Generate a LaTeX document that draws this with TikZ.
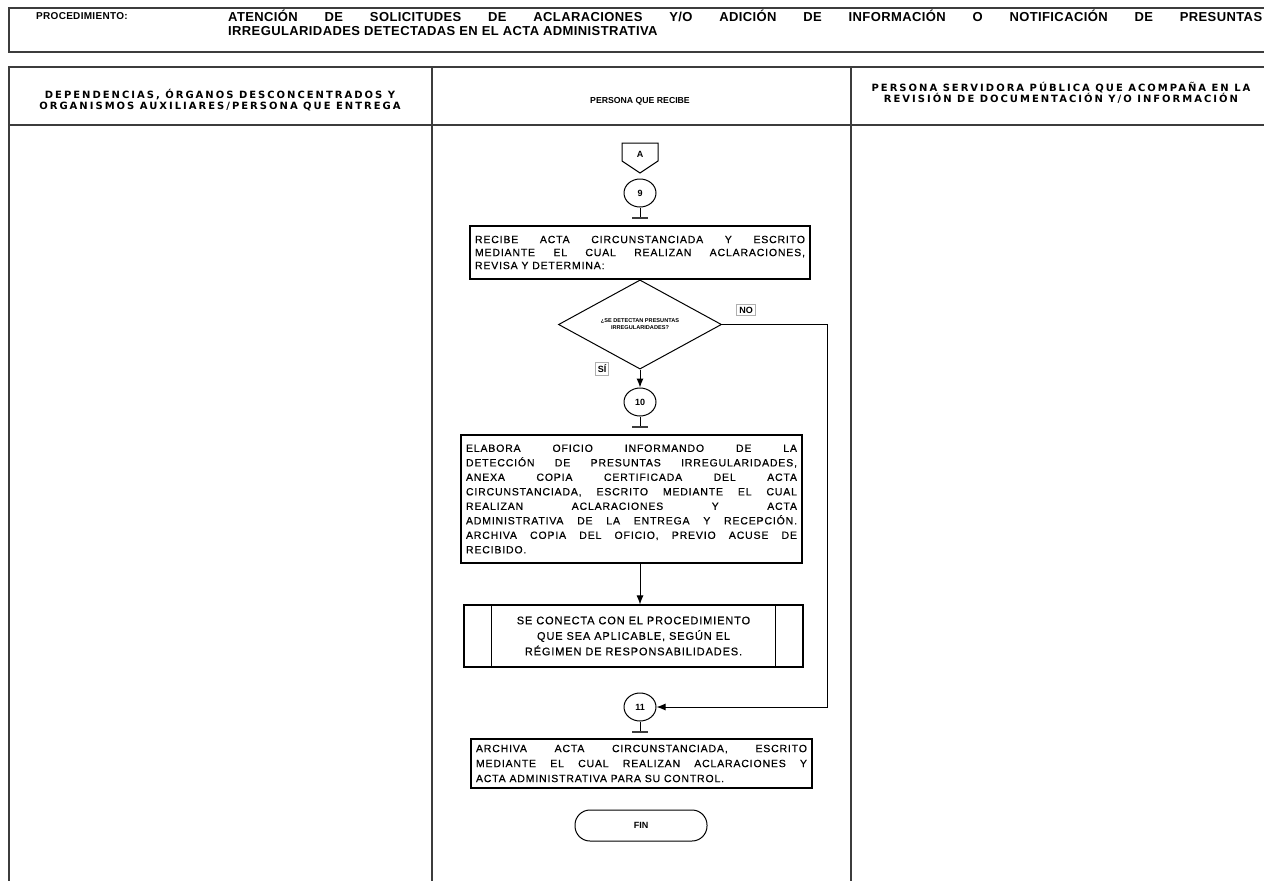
\documentclass[tikz,border=0pt]{standalone}
\usepackage{fontspec}
\setmainfont{Liberation Sans}
\newfontfamily\boxfont[LetterSpace=8,FakeBold=0.5]{Liberation Sans}
\newfontfamily\headfont[LetterSpace=20]{DejaVu Sans}
\newfontfamily\titlefont[LetterSpace=3]{Liberation Sans}
\usetikzlibrary{arrows.meta,shapes.geometric}
\definecolor{rulegray}{RGB}{60,60,60}
\definecolor{tagline}{RGB}{175,175,175}

\begin{document}
\begin{tikzpicture}[x=1pt,y=-1pt,
    proceso/.style={draw, line width=1.1pt, inner sep=5pt, align=justify},
    conector/.style={draw, ellipse, line width=1pt, minimum width=32pt, minimum height=28pt, inner sep=0pt,
                     font=\bfseries\fontsize{9}{9}\selectfont},
    decision/.style={draw, diamond, line width=1pt, minimum width=163pt, minimum height=71pt, inner sep=0pt, align=center,
                     font=\bfseries\fontsize{5.6}{7}\selectfont},
    etiqueta/.style={draw=tagline, line width=0.6pt, inner sep=2.5pt, font=\bfseries\fontsize{9}{9}\selectfont},
    liga/.style={line width=1pt},
    flecha/.style={line width=1pt, -{Latex[length=9pt,width=7pt]}},
    rejilla/.style={draw=rulegray, line width=1.6pt}]
\useasboundingbox (0,0) rectangle (1264,881);

% titulo del procedimiento
\draw[rulegray, line width=1.1pt] (9,8) rectangle (1290,52);
\node[anchor=west, inner sep=0pt, font=\titlefont\bfseries\fontsize{10}{12}\selectfont] (procLbl) at (36,16) {PROCEDIMIENTO:};
\node[anchor=north west, inner sep=0pt, text width=1034pt, align=justify,
      font=\titlefont\bfseries\fontsize{13}{14}\selectfont] (procTit) at (228,10)
     {ATENCIÓN DE SOLICITUDES DE ACLARACIONES Y/O ADICIÓN DE INFORMACIÓN O NOTIFICACIÓN DE PRESUNTAS\linebreak
      IRREGULARIDADES DETECTADAS EN EL ACTA ADMINISTRATIVA};

% tabla de columnas
\draw[rejilla] (9,900) -- (9,67) -- (1290,67);
\draw[rejilla] (9,125) -- (1290,125);
\draw[rejilla] (432,67) -- (432,900);
\draw[rejilla] (851,67) -- (851,900);

\node[align=center, font=\headfont\bfseries\fontsize{10}{11}\selectfont] (colDep) at (220,100)
     {DEPENDENCIAS, ÓRGANOS DESCONCENTRADOS Y\\ORGANISMOS AUXILIARES/PERSONA QUE ENTREGA};
\node[align=center, font=\bfseries\fontsize{8.7}{10}\selectfont] (colRec) at (640,101) {PERSONA QUE RECIBE};
\node[align=center, font=\headfont\bfseries\fontsize{10}{11}\selectfont] (colAco) at (1061,93)
     {PERSONA SERVIDORA PÚBLICA QUE ACOMPAÑA EN LA\\REVISIÓN DE DOCUMENTACIÓN Y/O INFORMACIÓN};

% diagrama
\node[font=\bfseries\fontsize{9}{9}\selectfont] (conA) at (640,154) {A};
\draw[liga] (622,143) -- (658,143) -- (658,161) -- (640,173) -- (622,161) -- cycle;
\node[conector] (c9) at (640,193) {9};
\node[proceso, text width=330pt, minimum height=53pt, font=\boxfont\fontsize{10.5}{13}\selectfont] (recibe) at (640,252.5)
     {RECIBE ACTA CIRCUNSTANCIADA Y ESCRITO\linebreak
      MEDIANTE EL CUAL REALIZAN ACLARACIONES,\linebreak
      REVISA Y DETERMINA:};
\node[decision] (detecta) at (640,324.5) {¿SE DETECTAN PRESUNTAS\\IRREGULARIDADES?};
\node[etiqueta] (no) at (746,310) {NO};
\node[etiqueta] (si) at (602,369) {SÍ};
\node[conector] (c10) at (640,402) {10};
\node[proceso, text width=331pt, minimum height=128pt, font=\boxfont\fontsize{10.5}{14.5}\selectfont] (elabora) at (631.5,499)
     {ELABORA OFICIO INFORMANDO DE LA\linebreak
      DETECCIÓN DE PRESUNTAS IRREGULARIDADES,\linebreak
      ANEXA COPIA CERTIFICADA DEL ACTA\linebreak
      CIRCUNSTANCIADA, ESCRITO MEDIANTE EL CUAL\linebreak
      REALIZAN ACLARACIONES Y ACTA\linebreak
      ADMINISTRATIVA DE LA ENTREGA Y RECEPCIÓN.\linebreak
      ARCHIVA COPIA DEL OFICIO, PREVIO ACUSE DE\linebreak
      RECIBIDO.};
\node[draw, line width=1.1pt, minimum width=339pt, minimum height=62pt, align=center,
      font=\boxfont\fontsize{11}{15.5}\selectfont] (conecta) at (633.5,636)
     {SE CONECTA CON EL PROCEDIMIENTO\\QUE SEA APLICABLE, SEGÚN EL\\RÉGIMEN DE RESPONSABILIDADES.};
\draw[liga] ([xshift=28pt]conecta.north west) -- ([xshift=28pt]conecta.south west);
\draw[liga] ([xshift=-28pt]conecta.north east) -- ([xshift=-28pt]conecta.south east);
\node[conector] (c11) at (640,707) {11};
\node[proceso, text width=331pt, minimum height=49pt, font=\boxfont\fontsize{10.5}{15}\selectfont] (archiva) at (641.5,763.5)
     {ARCHIVA ACTA CIRCUNSTANCIADA, ESCRITO\linebreak
      MEDIANTE EL CUAL REALIZAN ACLARACIONES Y\linebreak
      ACTA ADMINISTRATIVA PARA SU CONTROL.};
\node[draw, line width=1pt, rounded corners=15pt, minimum width=132pt, minimum height=31pt,
      font=\bfseries\fontsize{9}{9}\selectfont] (fin) at (641,825.5) {FIN};

% pie de los conectores
\foreach \c in {c9,c10,c11}{
  \draw[liga] (\c.south) -- ++(0,10) coordinate (\c-pie);
  \draw[rulegray, line width=2pt] ([xshift=-8pt]\c-pie) -- ([xshift=8pt]\c-pie);
}

% flechas
\draw[liga] (recibe) -- (detecta);
\draw[flecha] (detecta) -- (c10);
\draw[flecha] (elabora.south -| c10) -- (conecta.north -| c10);
\coordinate (giro) at (827,324.5);
\draw[flecha] (detecta.east) -- (giro) |- (c11.east);
\end{tikzpicture}
\end{document}
